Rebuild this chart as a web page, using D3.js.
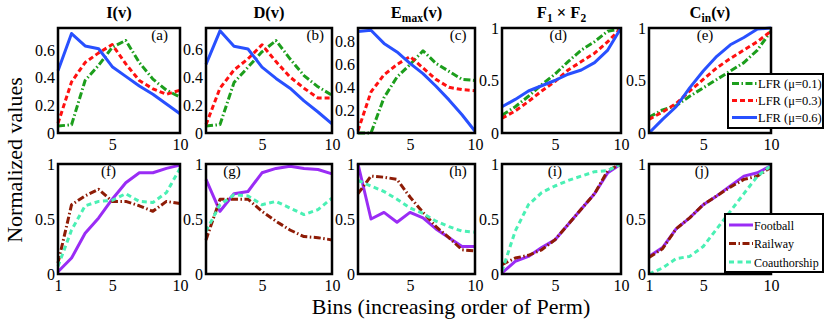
<!DOCTYPE html>
<html><head><meta charset="utf-8">
<script src="https://cdn.jsdelivr.net/npm/d3@7"></script>
<style>
body{margin:0;background:#fff}
svg{display:block}
text{font-family:"Liberation Serif","Times New Roman",serif;fill:#000}
</style>
</head><body>
<svg id="chart" width="830" height="321"></svg>
<script>
// ---------- DATA ----------
const bins = [1,2,3,4,5,6,7,8,9,10];
const lfrNames = ["LFR (\u03bc=0.1)", "LFR (\u03bc=0.3)", "LFR (\u03bc=0.6)"];
const realNames = ["Football", "Railway", "Coauthorship"];

// (a) I(v)
const I_mu01 = [0.05,0.06,0.38,0.49,0.62,0.67,0.51,0.39,0.31,0.26];
const I_mu03 = [0.07,0.37,0.51,0.58,0.64,0.50,0.38,0.32,0.28,0.31];
const I_mu06 = [0.45,0.72,0.63,0.61,0.48,0.41,0.34,0.28,0.21,0.14];
// (b) D(v)
const D_mu01 = [0.05,0.06,0.36,0.47,0.58,0.66,0.53,0.41,0.33,0.27];
const D_mu03 = [0.06,0.32,0.45,0.53,0.63,0.51,0.40,0.32,0.25,0.25];
const D_mu06 = [0.49,0.73,0.62,0.60,0.47,0.39,0.32,0.23,0.15,0.065];
// (c) Emax(v)
const E_mu01 = [0.0,0.0,0.31,0.49,0.60,0.72,0.61,0.54,0.47,0.46];
const E_mu03 = [0.02,0.36,0.51,0.60,0.67,0.57,0.47,0.40,0.38,0.37];
const E_mu06 = [0.89,0.90,0.785,0.71,0.61,0.52,0.41,0.29,0.16,0.015];
// (d) F1 x F2
const F_mu01 = [0.17,0.25,0.35,0.46,0.56,0.68,0.79,0.87,0.97,0.99];
const F_mu03 = [0.14,0.21,0.30,0.40,0.49,0.60,0.68,0.76,0.87,1.0];
const F_mu06 = [0.25,0.32,0.40,0.45,0.50,0.56,0.60,0.67,0.79,1.0];
// (e) Cin(v)
const C_mu01 = [0.15,0.22,0.26,0.35,0.43,0.51,0.59,0.67,0.79,0.97];
const C_mu03 = [0.13,0.20,0.28,0.40,0.51,0.62,0.71,0.79,0.87,0.97];
const C_mu06 = [0.0,0.13,0.25,0.43,0.59,0.73,0.84,0.91,0.99,1.0];
// (f) I(v) real
const fFootball = [0.02,0.145,0.37,0.51,0.68,0.83,0.92,0.92,0.96,0.99];
const fRailway  = [0.10,0.63,0.71,0.77,0.66,0.66,0.62,0.57,0.66,0.64];
const fCoauth   = [0.07,0.40,0.62,0.66,0.67,0.73,0.66,0.65,0.74,0.96];
// (g) D(v) real
const gFootball = [0.86,0.57,0.73,0.75,0.92,0.96,0.98,0.96,0.95,0.91];
const gRailway  = [0.31,0.68,0.68,0.68,0.57,0.48,0.40,0.34,0.33,0.31];
const gCoauth   = [0.39,0.63,0.72,0.71,0.63,0.66,0.60,0.54,0.585,0.69];
// (h) Emax(v) real
const hFootball = [1.0,0.50,0.56,0.47,0.56,0.51,0.41,0.33,0.25,0.25];
const hRailway  = [0.73,0.89,0.88,0.86,0.70,0.56,0.43,0.33,0.22,0.21];
const hCoauth   = [0.85,0.80,0.75,0.68,0.60,0.55,0.48,0.43,0.39,0.38];
// (i) F1 x F2 real
const iFootball = [0.01,0.115,0.16,0.24,0.31,0.45,0.59,0.73,0.92,1.0];
const iRailway  = [0.085,0.145,0.17,0.22,0.31,0.45,0.59,0.73,0.94,1.0];
const iCoauth   = [0.025,0.39,0.63,0.74,0.80,0.85,0.89,0.93,0.94,1.0];
// (j) Cin(v) real
const jFootball = [0.16,0.24,0.41,0.51,0.63,0.71,0.80,0.89,0.92,0.985];
const jRailway  = [0.15,0.23,0.41,0.51,0.63,0.71,0.79,0.86,0.89,0.97];
const jCoauth   = [0.0,0.055,0.14,0.16,0.25,0.41,0.57,0.73,0.89,0.985];

const topTitles = ["I(v)", "D(v)", "E|max|(v)", "F|1| \u00d7 F|2|", "C|in|(v)"];
const panelLetters = ["(a)","(b)","(c)","(d)","(e)","(f)","(g)","(h)","(i)","(j)"];
const yTicksA = [0,0.2,0.4,0.6];
const yTicksC = [0,0.2,0.4,0.6,0.8];
const yTicksUnit = [0,0.5,1];
const xTicksPlain = [5,10];
const xTicksWithOne = [1,5,10];

// ---------- STYLES / LAYOUT ----------
const lfrStyles = [
  {color:"#1c9e1c", dash:"7,2.5,1.5,2.5"},
  {color:"#ff1010", dash:"5,3"},
  {color:"#2850ff", dash:null}
];
const realStyles = [
  {color:"#9a2cf5", dash:null},
  {color:"#8e1c06", dash:"7,2.5,1.5,2.5"},
  {color:"#4af0b4", dash:"5,3.5"}
];
const colX = [[58,180],[206,332],[358,475],[502,621],[649,771]];
const rowY = [[28,133],[164,274]];
const labelX = [8.5,8.8,8.7,5.25,5.13,4.72,2.86,8.7,5.0,4.9];

const panels = [
  {series:[I_mu01,I_mu03,I_mu06], kind:"lfr", ymax:0.76, yt:yTicksA, xt:xTicksPlain},
  {series:[D_mu01,D_mu03,D_mu06], kind:"lfr", ymax:0.75, yt:yTicksA, xt:xTicksPlain},
  {series:[E_mu01,E_mu03,E_mu06], kind:"lfr", ymax:0.92, yt:yTicksC, xt:xTicksPlain},
  {series:[F_mu01,F_mu03,F_mu06], kind:"lfr", ymax:1, yt:yTicksUnit, xt:xTicksPlain},
  {series:[C_mu01,C_mu03,C_mu06], kind:"lfr", ymax:1, yt:yTicksUnit, xt:xTicksPlain},
  {series:[fFootball,fRailway,fCoauth], kind:"real", ymax:1, yt:yTicksUnit, xt:xTicksWithOne},
  {series:[gFootball,gRailway,gCoauth], kind:"real", ymax:1, yt:yTicksUnit, xt:xTicksPlain},
  {series:[hFootball,hRailway,hCoauth], kind:"real", ymax:1, yt:yTicksUnit, xt:xTicksPlain},
  {series:[iFootball,iRailway,iCoauth], kind:"real", ymax:1, yt:yTicksUnit, xt:xTicksPlain},
  {series:[jFootball,jRailway,jCoauth], kind:"real", ymax:1, yt:yTicksUnit, xt:xTicksWithOne}
];

const svg = d3.select("#chart");
const fmt = v => String(v);

panels.forEach((p, idx) => {
  const row = idx < 5 ? 0 : 1;
  const col = idx % 5;
  const [x0,x1] = colX[col];
  const [y0,y1] = rowY[row];
  const x = d3.scaleLinear().domain([1,10]).range([x0,x1]);
  const y = d3.scaleLinear().domain([0,p.ymax]).range([y1,y0]);
  const g = svg.append("g");

  const ax = g.append("g").attr("transform",`translate(0,${y1})`)
    .call(d3.axisBottom(x).tickValues(p.xt).tickFormat(fmt).tickSize(0).tickPadding(5.5));
  const ay = g.append("g").attr("transform",`translate(${x0},0)`)
    .call(d3.axisLeft(y).tickValues(p.yt).tickFormat(fmt).tickSize(0).tickPadding(3));
  [ax,ay].forEach(a => {
    a.select(".domain").remove();
    a.selectAll("text").attr("font-size",16).attr("fill","#000");
  });

  const styles = p.kind === "lfr" ? lfrStyles : realStyles;
  const line = d3.line().x((d,i)=>x(bins[i])).y(d=>y(d));
  p.series.forEach((s,i) => {
    g.append("path").datum(s)
      .attr("d", line)
      .attr("fill","none")
      .attr("stroke", styles[i].color)
      .attr("stroke-width", 3)
      .attr("stroke-dasharray", styles[i].dash)
      .attr("stroke-linejoin","round");
  });

  g.append("rect").attr("x",x0).attr("y",y0).attr("width",x1-x0).attr("height",y1-y0)
    .attr("fill","none").attr("stroke","#000").attr("stroke-width",2.5);

  g.append("text").attr("x", x(labelX[idx])).attr("y", y0 + 12)
    .attr("text-anchor","middle").attr("font-size",15).text(panelLetters[idx]);

  if (row === 0) {
    const t = g.append("text").attr("x",(x0+x1)/2).attr("y",18)
      .attr("text-anchor","middle").attr("font-size",16.5).attr("font-weight","bold");
    const parts = topTitles[col].split("|");
    parts.forEach((part,k) => {
      if (!part) return;
      const sub = k % 2 === 1;
      const ts = t.append("tspan").text(part);
      if (sub) ts.attr("font-size",11.5).attr("dy",4);
      else if (k > 0) ts.attr("dy",-4);
    });
  }
});

function legend(names, styles, bx, by, bw, bh, first, rowH, fs, lineLen) {
  const g = svg.append("g");
  g.append("rect").attr("x",bx).attr("y",by).attr("width",bw).attr("height",bh)
    .attr("fill","#fff").attr("stroke","#000").attr("stroke-width",2);
  names.forEach((n,i) => {
    const cy = by + first + i*rowH;
    g.append("line").attr("x1",bx+4).attr("x2",bx+4+lineLen).attr("y1",cy).attr("y2",cy)
      .attr("stroke",styles[i].color).attr("stroke-width",3).attr("stroke-dasharray",styles[i].dash);
    g.append("text").attr("x",bx+5+lineLen).attr("y",cy+4.5).attr("font-size",fs).text(n);
  });
}
legend(lfrNames, lfrStyles, 728, 74, 95, 54, 9.5, 17, 12.5, 25);
legend(realNames, realStyles, 725, 214, 98, 58, 11, 18.5, 12, 24);

svg.append("text").attr("transform","translate(22,160) rotate(-90)")
  .attr("text-anchor","middle").attr("font-size",22).text("Normalized values");
svg.append("text").attr("x",451).attr("y",314)
  .attr("text-anchor","middle").attr("font-size",22).text("Bins (increasing order of Perm)");
</script>
</body></html>
